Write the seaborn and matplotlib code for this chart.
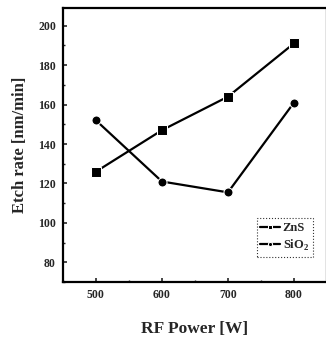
import matplotlib
matplotlib.use("Agg")
import matplotlib.pyplot as plt
import pandas as pd
import seaborn as sns
from matplotlib.ticker import MultipleLocator

# Values
power = [500, 600, 700, 800]
zns_rate = [126, 147, 164, 191]
sio2_rate = [152, 121, 115.5, 161]

df = pd.concat([
    pd.DataFrame({'power': power, 'rate': zns_rate, 'material': 'ZnS'}),
    pd.DataFrame({'power': power, 'rate': sio2_rate, 'material': 'SiO$_2$'}),
])

sns.set_style("ticks")
plt.rcParams['font.family'] = ['Liberation Serif', 'DejaVu Serif']
plt.rcParams['font.weight'] = 'bold'
plt.rcParams['mathtext.fontset'] = 'custom'
plt.rcParams['mathtext.rm'] = 'Liberation Serif:bold'

fig = plt.figure(figsize=(3.26, 3.42), dpi=100)
ax = fig.add_axes([0.193, 0.175, 0.81, 0.802])

sns.lineplot(data=df, x='power', y='rate', hue='material', style='material',
             markers={'ZnS': 's', 'SiO$_2$': 'o'}, dashes=False,
             palette={'ZnS': 'black', 'SiO$_2$': 'black'},
             markersize=6.5, linewidth=1.6, ax=ax)

ax.set_xlim(450, 850)
ax.set_ylim(70, 209)
ax.xaxis.set_major_locator(MultipleLocator(100))
ax.xaxis.set_minor_locator(MultipleLocator(50))
ax.yaxis.set_major_locator(MultipleLocator(20))
ax.yaxis.set_minor_locator(MultipleLocator(10))
ax.yaxis.set_major_formatter(lambda v, p: f"{int(v)}" if v >= 80 else "")
ax.tick_params(axis='both', which='major', direction='in', length=3, width=1.2,
               labelsize=8.5, pad=5)
ax.tick_params(axis='both', which='minor', direction='in', length=1.5, width=1)
for s in ax.spines.values():
    s.set_linewidth(1.6)
    s.set_color('black')

ax.set_xlabel('RF Power [W]', fontsize=12.5, fontweight='bold', labelpad=14)
ax.set_ylabel('Etch rate [nm/min]', fontsize=12, fontweight='bold', labelpad=7)

leg = ax.legend(loc='lower right', bbox_to_anchor=(0.97, 0.07), fontsize=9,
                frameon=True, fancybox=False, handlelength=1.6,
                handletextpad=0.2, borderpad=0.3, labelspacing=0.3)
leg.get_frame().set_edgecolor('black')
leg.get_frame().set_linestyle(':')
leg.get_frame().set_linewidth(0.8)
for h in leg.legend_handles:
    h.set_markersize(3)

fig.savefig('out.png', dpi=100)
